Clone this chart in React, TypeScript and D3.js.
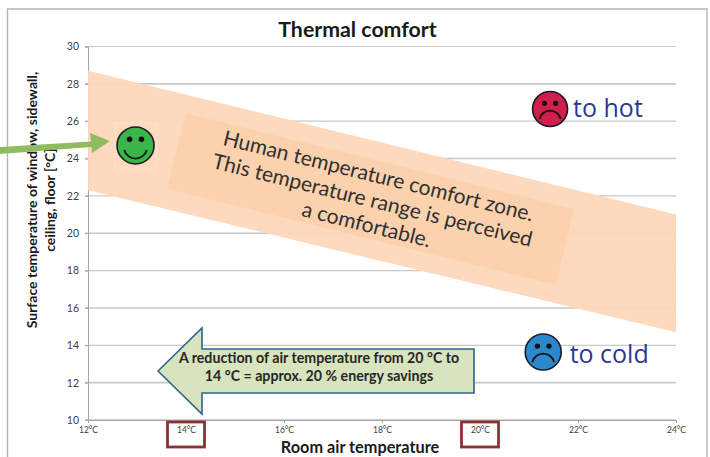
import React, { useEffect, useRef } from "react";
import * as d3 from "d3";

const xTicks = [12, 14, 16, 18, 20, 22, 24];
const yTicks = [10, 12, 14, 16, 18, 20, 22, 24, 26, 28, 30];
const bandUpper: [number, number][] = [[12, 28.7], [24, 21.0]];
const bandLower: [number, number][] = [[12, 22.3], [24, 14.7]];
const highlightedX = [14, 20];
const comfortText = ["Human temperature comfort zone.", "This temperature range is perceived", "a comfortable."];
const arrowText = ["A reduction of air temperature from 20 °C to", "14 °C = approx. 20 % energy savings"];
const faces = [
  { x: 12.97, y: 24.7, r: 18.5, fill: "#39b54a", mood: 1 },
  { x: 21.43, y: 26.65, r: 17.5, fill: "#cf1f4a", mood: -1 },
  { x: 21.29, y: 13.64, r: 18, fill: "#2b88cc", mood: -1 },
];
const faceLabels = [
  { x: 21.9, y: 26.7, text: "to hot" },
  { x: 21.83, y: 13.53, text: "to cold" },
];

const FONT = "Lato, 'Open Sans', sans-serif";
const x = d3.scaleLinear().domain([12, 24]).range([88, 676]);
const y = d3.scaleLinear().domain([10, 30]).range([420, 46.5]);

export default function App() {
  const ref = useRef<SVGSVGElement>(null);
  useEffect(() => {
    const svg = d3.select(ref.current!);
    svg.selectAll("*").remove();

    // chart frame
    svg.append("path").attr("d", "M7.5,457V9H707V457").attr("fill", "none").attr("stroke", "#b5b5b5").attr("stroke-width", 1.4);

    // grid
    const grid = svg.append("g");
    yTicks.forEach((t) => {
      grid.append("line").attr("x1", x(12) - 3).attr("x2", x(24))
        .attr("y1", y(t)).attr("y2", y(t))
        .attr("stroke", t === 10 ? "#a6a6a6" : "#c8c8c8").attr("stroke-width", t % 4 === 0 ? 1.6 : 1.2);
    });

    // axes
    const yAxis = d3.axisLeft(y).tickValues(yTicks).tickSize(3).tickPadding(6);
    const gy = svg.append("g").attr("transform", `translate(${x(12)},0)`).call(yAxis);
    gy.selectAll("text").attr("font-size", 10.5).attr("font-family", FONT).attr("fill", "#404040");
    gy.selectAll("line,path").attr("stroke", "#a6a6a6");

    const xAxis = d3.axisBottom(x).tickValues(xTicks).tickFormat((d) => `${d}°C`).tickSize(3).tickPadding(4);
    const gx = svg.append("g").attr("transform", `translate(0,${y(10)})`).call(xAxis);
    gx.selectAll("text").attr("font-size", 8.5).attr("font-family", FONT).attr("fill", "#404040");
    gx.selectAll("line,path").attr("stroke", "#a6a6a6");

    // comfort band
    const area = [...bandUpper, ...[...bandLower].reverse()];
    svg.append("path")
      .attr("d", d3.line().x((d) => x(d[0])).y((d) => y(d[1])).curve(d3.curveLinearClosed)(area as any)!)
      .attr("fill", "#fdd8bb").attr("fill-opacity", 0.95);

    // comfort note
    const note = svg.append("g").attr("transform", `translate(${x(17.77)},${y(21.83)}) rotate(13.9)`);
    note.append("rect").attr("x", -200).attr("y", -39).attr("width", 400).attr("height", 78).attr("fill", "#fcd2ae");
    comfortText.forEach((t, i) => {
      note.append("text").attr("text-anchor", "middle").attr("x", 2).attr("y", -17 + i * 25)
        .attr("font-size", 21).attr("font-family", FONT).attr("fill", "#303030").text(t);
    });

    // highlighted tick boxes
    highlightedX.forEach((v) => {
      svg.append("rect").attr("x", x(v) - 18.5).attr("y", 422).attr("width", 37).attr("height", 25)
        .attr("fill", "none").attr("stroke", "#8c3136").attr("stroke-width", 2.8);
    });

    // faint image box around the green face
    svg.append("rect").attr("x", x(12.97) - 20.5).attr("y", y(24.7) - 22.5).attr("width", 41).attr("height", 45)
      .attr("fill", "none").attr("stroke", "#fff").attr("stroke-opacity", 0.25);

    // faces
    const arc = d3.arc();
    faces.forEach((f) => {
      const g = svg.append("g").attr("transform", `translate(${x(f.x)},${y(f.y)})`);
      g.append("circle").attr("r", f.r).attr("fill", f.fill).attr("stroke", "#1a1a2a").attr("stroke-width", 1.6);
      [-1, 1].forEach((s) => g.append("circle").attr("cx", s * f.r * 0.32).attr("cy", -f.r * 0.33).attr("r", f.r * 0.15).attr("fill", "#111"));
      const rr = f.r * 0.58;
      const d = f.mood > 0
        ? arc({ innerRadius: rr, outerRadius: rr + 1.8, startAngle: Math.PI * 0.58, endAngle: Math.PI * 1.42 } as any)!
        : arc({ innerRadius: rr, outerRadius: rr + 1.8, startAngle: -Math.PI * 0.42, endAngle: Math.PI * 0.42 } as any)!;
      g.append("path").attr("d", d).attr("fill", "#111")
        .attr("transform", f.mood > 0 ? `translate(0,${f.r * 0.08})` : `translate(0,${f.r * 0.72})`);
    });

    faceLabels.forEach((l) => {
      svg.append("text").attr("x", x(l.x)).attr("y", y(l.y) + 9).attr("font-size", 25).attr("font-family", "'Open Sans', sans-serif")
        .attr("fill", "#2b3990").text(l.text);
    });

    // savings arrow
    svg.append("path")
      .attr("d", "M158,371L202,328V349H474V393H202V414Z")
      .attr("fill", "#d7e4bd").attr("stroke", "#2f6491").attr("stroke-width", 1.6);
    arrowText.forEach((t, i) => {
      svg.append("text").attr("x", 319).attr("y", 363 + i * 18).attr("text-anchor", "middle")
        .attr("font-size", 14.2).attr("font-weight", 700).attr("font-family", FONT).attr("fill", "#262626").text(t);
    });

    // titles
    svg.append("text").attr("x", 357.5).attr("y", 37).attr("text-anchor", "middle").attr("font-size", 21.3).attr("font-weight", 700).attr("font-family", FONT).attr("fill", "#1a1a1a").text("Thermal comfort");
    svg.append("text").attr("x", 360).attr("y", 453).attr("text-anchor", "middle").attr("font-size", 16.3).attr("font-weight", 700).attr("font-family", FONT).attr("fill", "#1a1a1a").text("Room air temperature");
    const yTitle = svg.append("text").attr("transform", "translate(37,200) rotate(-90)").attr("text-anchor", "middle").attr("font-size", 14).attr("font-weight", 700).attr("font-family", FONT).attr("fill", "#1a1a1a");
    yTitle.append("tspan").attr("x", 0).attr("y", 0).text("Surface temperature of window, sidewall,");
    yTitle.append("tspan").attr("x", 0).attr("y", 18).text("ceiling, floor [°C]");

    // green pointer sits over the axis title
    svg.append("path")
      .attr("d", "M0,147L91,141.5L90,133L110,141L92,153L91.5,147L0,154Z")
      .attr("fill", "#8fbc5f");
  }, []);
  return <svg ref={ref} width={710} height={457} style={{ position: "absolute", left: 0, top: 0, background: "#fff" }} />;
}
